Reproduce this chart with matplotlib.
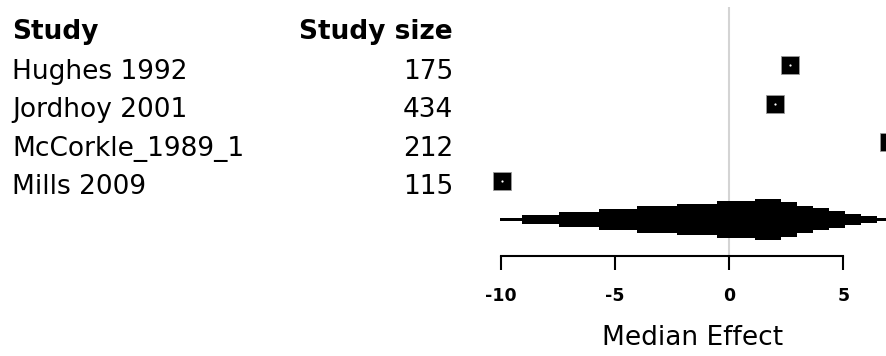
import numpy as np
import matplotlib
matplotlib.use("Agg")
import matplotlib.pyplot as plt
from matplotlib.transforms import blended_transform_factory

plt.rcParams['font.family'] = ['DejaVu Sans']
plt.rcParams['axes.unicode_minus'] = False

# per-study results
studies = ['Hughes 1992', 'Jordhoy 2001', 'McCorkle_1989_1', 'Mills 2009']
sizes = [175, 434, 212, 115]
effects = [2.68, 2.0, 7.0, -9.95]

# pooled estimate, drawn as a stepped density band
pooled_edges = [-10.03, -9.09, -7.46, -5.70, -4.06, -2.28, -0.53, 1.11,
                2.27, 2.98, 3.68, 4.39, 5.09, 5.79, 6.49, 7.5]
pooled_height = [0.075, 0.225, 0.35, 0.5, 0.65, 0.78, 0.895, 1.0,
                 0.84, 0.665, 0.54, 0.4, 0.25, 0.175, 0.075]

xticks = [-10, -5, 0, 5]

fig = plt.figure(figsize=(8.86, 3.56), dpi=100)
ax = fig.add_axes([500 / 886, 100 / 356, 386 / 886, 249 / 356])

rows = np.arange(len(studies))
pooled_row = len(studies)

ax.axvline(0, color='#d4d4d4', lw=1.5, zorder=0)

# stepped band for the pooled effect
h = np.array(pooled_height + [pooled_height[-1]]) * 0.53
ax.fill_between(pooled_edges, pooled_row - h, pooled_row + h,
                step='post', color='black', lw=0, zorder=2)

# study markers
ax.plot(effects, rows, 's', ms=12.5, mfc='black', mec='#9a9a9a', mew=0.6,
        zorder=3, clip_on=False)
ax.plot(effects, rows, 'o', ms=1.6, mfc='white', mec='none', zorder=4,
        clip_on=False)

ax.set_xlim(-10.05, 6.87)
ax.set_ylim(4.95, -1.52)

for s in ['top', 'right', 'left']:
    ax.spines[s].set_visible(False)
ax.spines['bottom'].set_bounds(-10, 5)
ax.spines['bottom'].set_linewidth(1.5)
ax.set_yticks([])
ax.set_xticks(xticks)
ax.set_xticklabels([str(t) for t in xticks], fontweight='bold')
ax.tick_params(axis='x', length=10, width=1.5, pad=12, labelsize=12.5)
ax.set_xlabel('Median Effect', fontsize=19, labelpad=15)

# study table on the left
tr = blended_transform_factory(fig.transFigure, ax.transData)
off = 0.34
ax.text(12 / 886, -1 + 0.30, 'Study', transform=tr, ha='left', va='baseline',
        fontsize=19, fontweight='bold', clip_on=False)
ax.text(453 / 886, -1 + 0.30, 'Study size', transform=tr, ha='right',
        va='baseline', fontsize=19, fontweight='bold', clip_on=False)
for r, name, n in zip(rows, studies, sizes):
    ax.text(12 / 886, r + off, name, transform=tr, ha='left', va='baseline',
            fontsize=19, clip_on=False)
    ax.text(453 / 886, r + off, str(n), transform=tr, ha='right',
            va='baseline', fontsize=19, clip_on=False)

fig.savefig('out.png', dpi=100)
